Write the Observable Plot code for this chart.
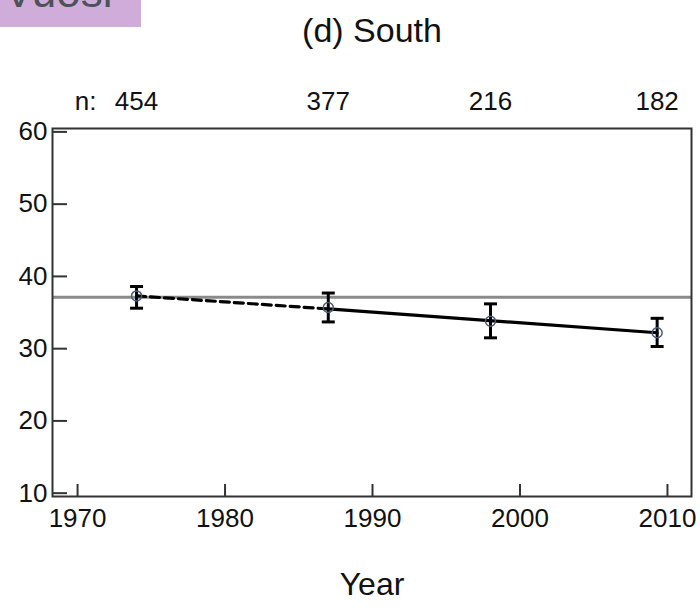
<!DOCTYPE html>
<html><head><meta charset="utf-8">
<script src="https://cdn.jsdelivr.net/npm/d3@7"></script>
<script src="https://cdn.jsdelivr.net/npm/@observablehq/plot@0.6"></script>
<style>
body{margin:0;background:#fff;}
#wrap{position:relative;width:700px;height:616px;}
#tag{position:absolute;left:0;top:0;width:141px;height:27px;background:#d0acdb;overflow:hidden;}
#tag span{position:absolute;left:4px;top:-30px;font:44px/44px "Liberation Sans",Arial,sans-serif;color:#4b5358;}
</style></head><body>
<div id="wrap"><div id="chart"></div><div id="tag"><span>Vuosi</span></div></div>
<script>
// Data
const years  = [1974, 1987, 1998, 2009.3];
const means  = [37.3, 35.7, 33.8, 32.2];
const lower  = [35.6, 33.7, 31.5, 30.3];
const upper  = [38.6, 37.7, 36.2, 34.2];
const counts = [454, 377, 216, 182];
const earlyYears  = [1974, 1987];
const earlyValues = [37.3, 35.5];
const trendYears  = [1987, 2009.3];
const trendValues = [35.5, 32.2];
const referenceLevel = [37.1];
const xTicks = [1970, 1980, 1990, 2000, 2010];
const yTicks = [10, 20, 30, 40, 50, 60];
const titleText = "(d) South";
const xLabelText = "Year";
const nPrefix = "n:";

const points = years.map((x, i) => ({x, mean: means[i], lo: lower[i], hi: upper[i], n: counts[i]}));
const early = earlyYears.map((x, i) => ({x, y: earlyValues[i]}));
const trend = trendYears.map((x, i) => ({x, y: trendValues[i]}));

const cap = {draw(ctx) { ctx.moveTo(-6.5, 0); ctx.lineTo(6.5, 0); }};
const font = "'Liberation Sans', Arial, sans-serif";

const chart = Plot.plot({
  width: 700,
  height: 616,
  marginTop: 128,
  marginBottom: 120,
  marginLeft: 52,
  marginRight: 9,
  style: {fontFamily: font, fontSize: "26px", color: "#111", background: "#fff"},
  x: {domain: [1968.3, 2011.63]},
  y: {domain: [9.54, 60.47]},
  marks: [
    Plot.ruleY(referenceLevel, {stroke: "#8a8a8a", strokeWidth: 3}),
    Plot.line(early, {x: "x", y: "y", stroke: "#000", strokeWidth: 3.2, strokeDasharray: "9,5"}),
    Plot.line(trend, {x: "x", y: "y", stroke: "#000", strokeWidth: 3.2}),
    Plot.ruleX(points, {x: "x", y1: "lo", y2: "hi", stroke: "#000", strokeWidth: 3}),
    Plot.dot(points, {x: "x", y: "lo", symbol: cap, fill: "none", stroke: "#000", strokeWidth: 3}),
    Plot.dot(points, {x: "x", y: "hi", symbol: cap, fill: "none", stroke: "#000", strokeWidth: 3}),
    Plot.dot(points, {x: "x", y: "mean", r: 5, fill: "none", stroke: "#4a5a7a", strokeWidth: 1.5}),
    Plot.frame({stroke: "#333", strokeWidth: 2}),
    Plot.axisX(xTicks, {anchor: "bottom", tickSize: 12, dy: -12, tickFormat: () => "", label: null, stroke: "#333", strokeWidth: 2}),
    Plot.axisX(xTicks, {anchor: "bottom", tickSize: 0, tickPadding: 12, tickFormat: d => String(d), label: null, fill: "#111"}),
    Plot.axisY(yTicks, {anchor: "left", tickSize: 15, dx: 15, tickFormat: () => "", label: null, stroke: "#333", strokeWidth: 2}),
    Plot.axisY(yTicks, {anchor: "left", tickSize: 0, tickPadding: 5, tickFormat: d => String(d), label: null, fill: "#111"}),
    Plot.text(points, {x: "x", text: d => String(d.n), frameAnchor: "top", dy: -27, lineAnchor: "middle", fill: "#111"}),
    Plot.text(points.slice(0, 1), {x: "x", text: () => nPrefix, frameAnchor: "top", dy: -27, dx: -40, textAnchor: "end", lineAnchor: "middle", fill: "#111"}),
    Plot.text([titleText], {text: d => d, frameAnchor: "top", dy: -97, lineAnchor: "middle", fontSize: 34, fill: "#111"}),
    Plot.text([xLabelText], {text: d => d, frameAnchor: "bottom", dy: 88, lineAnchor: "middle", fontSize: 32, fill: "#111"})
  ]
});
document.getElementById("chart").appendChild(chart);
</script>
</body></html>
